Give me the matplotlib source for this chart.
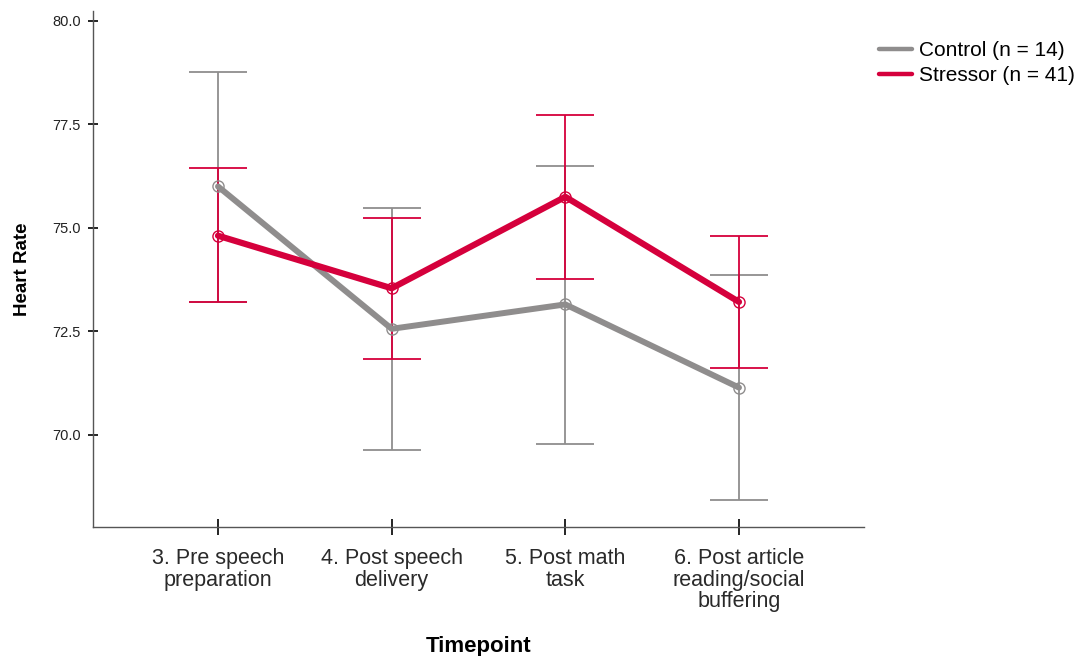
import numpy as np
import matplotlib.pyplot as plt

plt.rcParams['font.family'] = ['Liberation Sans', 'DejaVu Sans']

timepoints = ["3. Pre speech\npreparation", "4. Post speech\ndelivery",
              "5. Post math\ntask", "6. Post article\nreading/social\nbuffering"]

control_mean = [76.00, 72.56, 73.15, 71.14]
control_lo = [73.22, 69.64, 69.77, 68.42]
control_hi = [78.77, 75.47, 76.50, 73.85]

stressor_mean = [74.81, 73.54, 75.75, 73.21]
stressor_lo = [73.20, 71.83, 73.77, 71.62]
stressor_hi = [76.45, 75.25, 77.72, 74.80]

gray = "#8f8d8d"
red = "#d5003c"

fig = plt.figure(figsize=(10.8, 6.56), dpi=100)
ax = fig.add_axes([0.0861, 0.1966, 0.7139, 0.7866])

x = np.arange(len(timepoints))


def draw_group(mean, lo, hi, color, label, lw):
    mean = np.array(mean)
    yerr = [mean - np.array(lo), np.array(hi) - mean]
    ax.errorbar(x, mean, yerr=yerr, fmt="none", ecolor=color, elinewidth=1.3,
                capsize=21, capthick=1.3, zorder=2)
    ax.plot(x, mean, color=color, lw=lw, label=label, zorder=3,
            solid_capstyle="round", solid_joinstyle="round")
    ax.plot(x, mean, "o", ms=8, mfc="none", mec=color, mew=1.0, zorder=4)


draw_group(control_mean, control_lo, control_hi, gray, "Control (n = 14)", 4.3)
draw_group(stressor_mean, stressor_lo, stressor_hi, red, "Stressor (n = 41)", 4.5)

ax.set_xlim(-0.72, 3.72)
ax.set_ylim(67.77, 80.24)
ax.set_yticks([70.0, 72.5, 75.0, 77.5, 80.0])
ax.set_yticklabels(["70.0", "72.5", "75.0", "77.5", "80.0"])
ax.set_xticks(x)
ax.set_xticklabels(timepoints, fontsize=15.5, color="#2a2a2a", linespacing=1.05)
ax.tick_params(axis="y", direction="inout", length=7.5, width=1.2, labelsize=10.5,
               labelcolor="#222222", pad=5)
ax.tick_params(axis="x", direction="inout", length=12, width=1.2, pad=9)

for side in ("top", "right"):
    ax.spines[side].set_visible(False)
for side in ("left", "bottom"):
    ax.spines[side].set_color("#555555")
    ax.spines[side].set_linewidth(1.0)

ax.set_ylabel("Heart Rate", fontsize=13.5, fontweight="bold", labelpad=15)
ax.set_xlabel("Timepoint", fontsize=16, fontweight="bold", labelpad=17)

leg = ax.legend(loc="upper left", bbox_to_anchor=(879 / 1080, 1 - 41 / 656),
                bbox_transform=fig.transFigure, frameon=False,
                fontsize=15, handlelength=1.6, handletextpad=0.3,
                labelspacing=0.28, borderpad=0, borderaxespad=0)
for line in leg.get_lines():
    line.set_linewidth(3.2)

fig.savefig("out.png", dpi=100)
